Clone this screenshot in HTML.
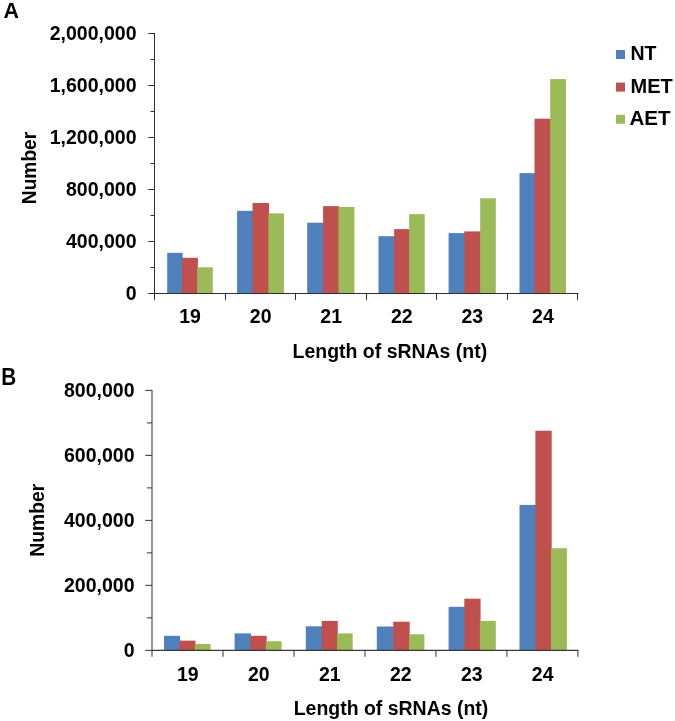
<!DOCTYPE html>
<html><head><meta charset="utf-8"><title>sRNA length distribution</title>
<style>
html,body{margin:0;padding:0;background:#fff;}
body{width:675px;height:721px;overflow:hidden;}
svg{display:block;}
svg text{font-family:"Liberation Sans",Arial,Helvetica,sans-serif;font-weight:bold;font-size:19.5px;fill:#000;}
</style></head><body>
<svg width="675" height="721" viewBox="0 0 675 721">
<rect width="675" height="721" fill="#fff"/>
<text transform="translate(3.56,17.6) scale(1.075,1.107)" style="font-size:20px">A</text>
<text transform="translate(1.34,384.5) scale(1.012,1.122)" style="font-size:20.5px">B</text>
<rect x="167.20" y="252.80" width="15.50" height="40.70" fill="#4f81bd"/>
<rect x="182.00" y="257.80" width="15.90" height="35.70" fill="#c0504d"/>
<rect x="197.20" y="267.30" width="15.60" height="26.20" fill="#9bbb59"/>
<rect x="237.10" y="210.80" width="16.10" height="82.70" fill="#4f81bd"/>
<rect x="252.50" y="203.00" width="16.60" height="90.50" fill="#c0504d"/>
<rect x="268.40" y="213.40" width="15.60" height="80.10" fill="#9bbb59"/>
<rect x="307.20" y="222.70" width="16.60" height="70.80" fill="#4f81bd"/>
<rect x="323.10" y="206.10" width="16.10" height="87.40" fill="#c0504d"/>
<rect x="338.50" y="207.00" width="15.90" height="86.50" fill="#9bbb59"/>
<rect x="378.50" y="236.20" width="16.30" height="57.30" fill="#4f81bd"/>
<rect x="394.10" y="229.10" width="15.70" height="64.40" fill="#c0504d"/>
<rect x="409.10" y="214.10" width="15.60" height="79.40" fill="#9bbb59"/>
<rect x="448.60" y="233.10" width="16.40" height="60.40" fill="#4f81bd"/>
<rect x="464.30" y="231.40" width="16.60" height="62.10" fill="#c0504d"/>
<rect x="480.20" y="198.30" width="15.60" height="95.20" fill="#9bbb59"/>
<rect x="519.50" y="173.10" width="15.70" height="120.40" fill="#4f81bd"/>
<rect x="534.50" y="118.70" width="16.40" height="174.80" fill="#c0504d"/>
<rect x="550.20" y="79.10" width="15.80" height="214.40" fill="#9bbb59"/>
<line x1="154.5" y1="33.0" x2="154.5" y2="294.0" stroke="#2e2e2e" stroke-width="1"/>
<line x1="154.5" y1="293.5" x2="578.4" y2="293.5" stroke="#2e2e2e" stroke-width="1"/>
<line x1="148.30" y1="293.50" x2="154.5" y2="293.50" stroke="#2e2e2e" stroke-width="1"/>
<line x1="150.50" y1="267.50" x2="154.5" y2="267.50" stroke="#2e2e2e" stroke-width="1"/>
<text x="136.5" y="299.70" text-anchor="end">0</text>
<line x1="148.30" y1="241.50" x2="154.5" y2="241.50" stroke="#2e2e2e" stroke-width="1"/>
<line x1="150.50" y1="215.50" x2="154.5" y2="215.50" stroke="#2e2e2e" stroke-width="1"/>
<text x="136.5" y="247.70" text-anchor="end">400,000</text>
<line x1="148.30" y1="189.50" x2="154.5" y2="189.50" stroke="#2e2e2e" stroke-width="1"/>
<line x1="150.50" y1="163.50" x2="154.5" y2="163.50" stroke="#2e2e2e" stroke-width="1"/>
<text x="136.5" y="195.70" text-anchor="end">800,000</text>
<line x1="148.30" y1="137.50" x2="154.5" y2="137.50" stroke="#2e2e2e" stroke-width="1"/>
<line x1="150.50" y1="111.50" x2="154.5" y2="111.50" stroke="#2e2e2e" stroke-width="1"/>
<text x="136.5" y="143.70" text-anchor="end">1,200,000</text>
<line x1="148.30" y1="85.50" x2="154.5" y2="85.50" stroke="#2e2e2e" stroke-width="1"/>
<line x1="150.50" y1="59.50" x2="154.5" y2="59.50" stroke="#2e2e2e" stroke-width="1"/>
<text x="136.5" y="91.70" text-anchor="end">1,600,000</text>
<line x1="148.30" y1="33.50" x2="154.5" y2="33.50" stroke="#2e2e2e" stroke-width="1"/>
<text x="136.5" y="39.70" text-anchor="end">2,000,000</text>
<line x1="154.50" y1="293.5" x2="154.50" y2="299.9" stroke="#2e2e2e" stroke-width="1"/>
<line x1="225.50" y1="293.5" x2="225.50" y2="299.9" stroke="#2e2e2e" stroke-width="1"/>
<line x1="295.50" y1="293.5" x2="295.50" y2="299.9" stroke="#2e2e2e" stroke-width="1"/>
<line x1="366.50" y1="293.5" x2="366.50" y2="299.9" stroke="#2e2e2e" stroke-width="1"/>
<line x1="436.50" y1="293.5" x2="436.50" y2="299.9" stroke="#2e2e2e" stroke-width="1"/>
<line x1="507.50" y1="293.5" x2="507.50" y2="299.9" stroke="#2e2e2e" stroke-width="1"/>
<line x1="577.50" y1="293.5" x2="577.50" y2="299.9" stroke="#2e2e2e" stroke-width="1"/>
<text x="190.08" y="323.2" text-anchor="middle">19</text>
<text x="260.65" y="323.2" text-anchor="middle">20</text>
<text x="331.22" y="323.2" text-anchor="middle">21</text>
<text x="401.78" y="323.2" text-anchor="middle">22</text>
<text x="472.35" y="323.2" text-anchor="middle">23</text>
<text x="542.92" y="323.2" text-anchor="middle">24</text>
<text x="292.6" y="357.8" textLength="194.6" lengthAdjust="spacingAndGlyphs">Length of sRNAs (nt)</text>
<text transform="translate(36.4,168.0) rotate(-90)" text-anchor="middle" textLength="72.4" lengthAdjust="spacingAndGlyphs">Number</text>
<rect x="164.00" y="635.80" width="16.10" height="14.55" fill="#4f81bd"/>
<rect x="179.40" y="640.60" width="16.10" height="9.75" fill="#c0504d"/>
<rect x="194.80" y="644.00" width="15.70" height="6.35" fill="#9bbb59"/>
<rect x="234.60" y="633.40" width="16.40" height="16.95" fill="#4f81bd"/>
<rect x="250.30" y="635.80" width="16.40" height="14.55" fill="#c0504d"/>
<rect x="266.00" y="641.20" width="15.60" height="9.15" fill="#9bbb59"/>
<rect x="305.80" y="626.30" width="16.60" height="24.05" fill="#4f81bd"/>
<rect x="321.70" y="620.90" width="16.10" height="29.45" fill="#c0504d"/>
<rect x="337.10" y="633.40" width="15.60" height="16.95" fill="#9bbb59"/>
<rect x="376.80" y="626.50" width="17.10" height="23.85" fill="#4f81bd"/>
<rect x="393.20" y="621.70" width="16.50" height="28.65" fill="#c0504d"/>
<rect x="409.00" y="634.30" width="15.40" height="16.05" fill="#9bbb59"/>
<rect x="448.60" y="606.80" width="16.40" height="43.55" fill="#4f81bd"/>
<rect x="464.30" y="598.70" width="16.30" height="51.65" fill="#c0504d"/>
<rect x="479.90" y="620.80" width="15.90" height="29.55" fill="#9bbb59"/>
<rect x="519.50" y="504.90" width="16.60" height="145.45" fill="#4f81bd"/>
<rect x="535.40" y="430.70" width="16.30" height="219.65" fill="#c0504d"/>
<rect x="551.00" y="548.20" width="15.90" height="102.15" fill="#9bbb59"/>
<line x1="152.0" y1="389.9" x2="152.0" y2="650.85" stroke="#383838" stroke-width="1.05"/>
<line x1="152.0" y1="650.35" x2="578.4" y2="650.35" stroke="#383838" stroke-width="1.05"/>
<line x1="145.25" y1="650.35" x2="152.0" y2="650.35" stroke="#383838" stroke-width="1.05"/>
<line x1="146.90" y1="617.86" x2="152.0" y2="617.86" stroke="#383838" stroke-width="1.05"/>
<text x="134.5" y="656.55" text-anchor="end">0</text>
<line x1="145.25" y1="585.36" x2="152.0" y2="585.36" stroke="#383838" stroke-width="1.05"/>
<line x1="146.90" y1="552.87" x2="152.0" y2="552.87" stroke="#383838" stroke-width="1.05"/>
<text x="134.5" y="591.56" text-anchor="end">200,000</text>
<line x1="145.25" y1="520.38" x2="152.0" y2="520.38" stroke="#383838" stroke-width="1.05"/>
<line x1="146.90" y1="487.88" x2="152.0" y2="487.88" stroke="#383838" stroke-width="1.05"/>
<text x="134.5" y="526.58" text-anchor="end">400,000</text>
<line x1="145.25" y1="455.39" x2="152.0" y2="455.39" stroke="#383838" stroke-width="1.05"/>
<line x1="146.90" y1="422.89" x2="152.0" y2="422.89" stroke="#383838" stroke-width="1.05"/>
<text x="134.5" y="461.59" text-anchor="end">600,000</text>
<line x1="145.25" y1="390.40" x2="152.0" y2="390.40" stroke="#383838" stroke-width="1.05"/>
<text x="134.5" y="396.60" text-anchor="end">800,000</text>
<line x1="152.00" y1="650.35" x2="152.00" y2="656.75" stroke="#383838" stroke-width="1.05"/>
<line x1="222.98" y1="650.35" x2="222.98" y2="656.75" stroke="#383838" stroke-width="1.05"/>
<line x1="293.97" y1="650.35" x2="293.97" y2="656.75" stroke="#383838" stroke-width="1.05"/>
<line x1="364.95" y1="650.35" x2="364.95" y2="656.75" stroke="#383838" stroke-width="1.05"/>
<line x1="435.93" y1="650.35" x2="435.93" y2="656.75" stroke="#383838" stroke-width="1.05"/>
<line x1="506.92" y1="650.35" x2="506.92" y2="656.75" stroke="#383838" stroke-width="1.05"/>
<line x1="577.90" y1="650.35" x2="577.90" y2="656.75" stroke="#383838" stroke-width="1.05"/>
<text x="187.79" y="681.2" text-anchor="middle">19</text>
<text x="258.78" y="681.2" text-anchor="middle">20</text>
<text x="329.76" y="681.2" text-anchor="middle">21</text>
<text x="400.74" y="681.2" text-anchor="middle">22</text>
<text x="471.73" y="681.2" text-anchor="middle">23</text>
<text x="542.71" y="681.2" text-anchor="middle">24</text>
<text x="293.7" y="714.6" textLength="194.6" lengthAdjust="spacingAndGlyphs">Length of sRNAs (nt)</text>
<text transform="translate(43.9,520.2) rotate(-90)" text-anchor="middle" textLength="73.0" lengthAdjust="spacingAndGlyphs">Number</text>
<rect x="616" y="50" width="9" height="9" fill="#4f81bd"/>
<text x="630.5" y="60.4" textLength="26.0" lengthAdjust="spacingAndGlyphs">NT</text>
<rect x="616" y="82.6" width="9" height="9" fill="#c0504d"/>
<text x="630.5" y="93.0" textLength="42.2" lengthAdjust="spacingAndGlyphs">MET</text>
<rect x="616" y="114.8" width="9" height="9" fill="#9bbb59"/>
<text x="629.4" y="125.2" textLength="41.2" lengthAdjust="spacingAndGlyphs">AET</text>
</svg></body></html>
